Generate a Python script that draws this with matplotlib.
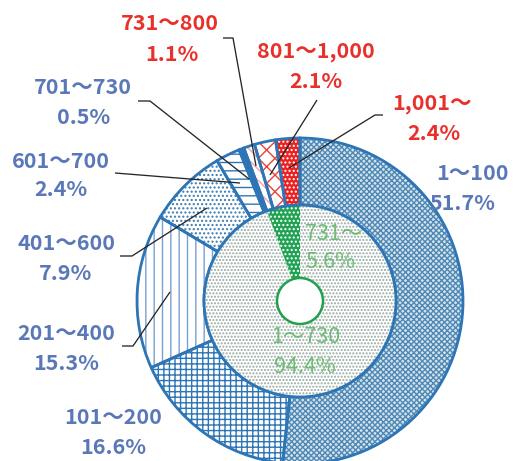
import matplotlib
matplotlib.use('Agg')
import matplotlib.pyplot as plt
from matplotlib.patches import Circle

plt.rcParams['font.family'] = ['Noto Sans CJK JP', 'DejaVu Sans']
plt.rcParams['hatch.linewidth'] = 1.0

# ---------------- data ----------------
outer_labels = ['1～100', '101～200', '201～400', '401～600', '601～700',
                '701～730', '731～800', '801～1,000', '1,001～']
outer_values = [51.7, 16.6, 15.3, 7.9, 2.4, 0.5, 1.1, 2.1, 2.4]
inner_labels = ['1～730', '731～']
inner_values = [94.4, 5.6]

# ---------------- style / layout ----------------
W, H = 516, 461
BLUE = '#2e75b6'
LBL_BLUE = '#5a78b8'
LBL_RED = '#e8312b'
LBL_GREEN = '#62b86a'
outer_label_colors = [LBL_BLUE] * 6 + [LBL_RED] * 3

# (facecolor, hatch, hatchcolor)
outer_styles = [
    ('#d3e3ee', 'xxxxxx', '#5089b4'),
    ('white', '+++', BLUE),
    ('white', '||', '#7aa0cf'),
    ('white', '....', '#3d7ab0'),
    ('white', '--', BLUE),
    (BLUE, '', BLUE),
    ('white', '\\\\\\', '#f3a3a3'),
    ('white', 'xx', '#e8443a'),
    ('#ee1f1f', '....', 'white'),
]
inner_styles = [
    ('white', '.....', '#95aaa0'),
    ('#1fa352', '....', 'white'),
]

CX, CY = 300, H - 301
R_OUT, R_MID, R_HOLE = 163, 96, 23

# label positions (pixel coords, y from top): range line / percent line
outer_pos = [
    ((473, 173), (462, 203)),
    ((113, 418), (113, 447)),
    ((66, 334), (66, 363)),
    ((66, 244), (66, 273)),
    ((61, 161), (61, 190)),
    ((83, 88), (84, 118)),
    ((170, 24), (172, 55)),
    ((316, 52), (316, 82)),
    ((432, 104), (434, 133)),
]
inner_pos = [((306, 337), (305, 367)), ((305, 234), (305, 262))]
inner_ha = ['center', 'left']

leaders = [
    None,
    None,
    [(122, 346), (133, 346), (170, 292)],
    [(120, 256), (132, 256), (207, 208)],
    [(115, 173), (240, 183)],
    [(138, 101), (150, 101), (249, 179)],
    [(223, 38), (233, 38), (256, 166)],
    [(317, 100), (270, 175)],
    [(383, 115), (375, 115), (289, 168)],
]

fig = plt.figure(figsize=(W / 100, H / 100), dpi=100)
ax = fig.add_axes([0, 0, 1, 1])

# outer ring: fills, then outlines
fills, _ = ax.pie(outer_values, radius=R_OUT, center=(CX, CY), startangle=90,
                  counterclock=False,
                  wedgeprops=dict(width=R_OUT - R_MID, linewidth=0))
for w, (fc, hatch, hc) in zip(fills, outer_styles):
    w.set_facecolor(fc)
    w.set_edgecolor(hc)
    w.set_hatch(hatch)
    w.set_linewidth(0)
ax.pie(outer_values, radius=R_OUT, center=(CX, CY), startangle=90,
       counterclock=False,
       wedgeprops=dict(width=R_OUT - R_MID, fill=False, edgecolor=BLUE,
                       linewidth=2.0))

# inner ring
ifills, _ = ax.pie(inner_values, radius=R_MID, center=(CX, CY), startangle=90,
                   counterclock=False,
                   wedgeprops=dict(width=R_MID - R_HOLE, linewidth=0))
for w, (fc, hatch, hc) in zip(ifills, inner_styles):
    w.set_facecolor(fc)
    w.set_edgecolor(hc)
    w.set_hatch(hatch)
    w.set_linewidth(0)
ax.add_patch(Circle((CX, CY), R_MID, fill=False, edgecolor=BLUE, linewidth=2.0,
                    zorder=3))
ax.add_patch(Circle((CX, CY), R_HOLE, facecolor='white', edgecolor='#22a04e',
                    linewidth=1.8, zorder=3))

# leader lines
for pts in leaders:
    if pts is None:
        continue
    xs = [p[0] for p in pts]
    ys = [H - p[1] for p in pts]
    ax.plot(xs, ys, color='#262626', linewidth=0.95, zorder=4,
            solid_capstyle='butt')

FS = 15.5
for lab, val, col, (p1, p2) in zip(outer_labels, outer_values,
                                   outer_label_colors, outer_pos):
    ax.text(p1[0], H - p1[1], lab, color=col, fontsize=FS, fontweight='bold',
            ha='center', va='center', zorder=5)
    ax.text(p2[0], H - p2[1], f'{val:.1f}%', color=col, fontsize=FS,
            fontweight='bold', ha='center', va='center', zorder=5)

for lab, val, ha, (p1, p2) in zip(inner_labels, inner_values, inner_ha,
                                  inner_pos):
    ax.text(p1[0], H - p1[1], lab, color=LBL_GREEN, fontsize=FS,
            ha=ha, va='center', zorder=5, alpha=0.9)
    ax.text(p2[0], H - p2[1], f'{val:.1f}%', color=LBL_GREEN, fontsize=FS,
            ha=ha, va='center', zorder=5, alpha=0.9)

ax.set_xlim(0, W)
ax.set_ylim(0, H)
ax.set_aspect('equal')
ax.axis('off')

fig.savefig('out.png', dpi=100)
